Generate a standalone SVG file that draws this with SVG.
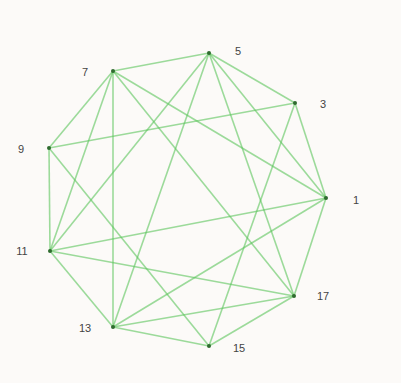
<svg xmlns="http://www.w3.org/2000/svg" width="401" height="383" viewBox="0 0 401 383">
<style>
.e{stroke:#5cc45c;stroke-width:1.6;stroke-opacity:0.6;fill:none}
.n{fill:#2f6b2f}
.t{font-family:"Liberation Sans",Arial,sans-serif;font-size:11px;fill:#444;text-anchor:middle;dominant-baseline:central}
</style>
<rect width="401" height="383" fill="#fcfaf8"/>
<g id="edges">
<line class="e" x1="326" y1="198" x2="209" y2="53"/>
<line class="e" x1="326" y1="198" x2="295" y2="103"/>
<line class="e" x1="326" y1="198" x2="113" y2="71"/>
<line class="e" x1="326" y1="198" x2="50" y2="251"/>
<line class="e" x1="326" y1="198" x2="113" y2="327"/>
<line class="e" x1="326" y1="198" x2="294" y2="296"/>
<line class="e" x1="295" y1="103" x2="209" y2="53"/>
<line class="e" x1="295" y1="103" x2="49" y2="148"/>
<line class="e" x1="295" y1="103" x2="209" y2="346"/>
<line class="e" x1="209" y1="53" x2="113" y2="71"/>
<line class="e" x1="209" y1="53" x2="294" y2="296"/>
<line class="e" x1="209" y1="53" x2="50" y2="251"/>
<line class="e" x1="209" y1="53" x2="113" y2="327"/>
<line class="e" x1="113" y1="71" x2="49" y2="148"/>
<line class="e" x1="113" y1="71" x2="50" y2="251"/>
<line class="e" x1="113" y1="71" x2="113" y2="327"/>
<line class="e" x1="113" y1="71" x2="294" y2="296"/>
<line class="e" x1="49" y1="148" x2="50" y2="251"/>
<line class="e" x1="49" y1="148" x2="209" y2="346"/>
<line class="e" x1="50" y1="251" x2="294" y2="296"/>
<line class="e" x1="50" y1="251" x2="113" y2="327"/>
<line class="e" x1="113" y1="327" x2="294" y2="296"/>
<line class="e" x1="113" y1="327" x2="209" y2="346"/>
<line class="e" x1="209" y1="346" x2="294" y2="296"/>
</g>
<g id="n1"><circle class="n" cx="326" cy="198" r="2"/><text class="t" x="356" y="200">1</text></g>
<g id="n3"><circle class="n" cx="295" cy="103" r="2"/><text class="t" x="323" y="104">3</text></g>
<g id="n5"><circle class="n" cx="209" cy="53" r="2"/><text class="t" x="238" y="51">5</text></g>
<g id="n7"><circle class="n" cx="113" cy="71" r="2"/><text class="t" x="85" y="72">7</text></g>
<g id="n9"><circle class="n" cx="49" cy="148" r="2"/><text class="t" x="21" y="149">9</text></g>
<g id="n11"><circle class="n" cx="50" cy="251" r="2"/><text class="t" x="22" y="251">11</text></g>
<g id="n13"><circle class="n" cx="113" cy="327" r="2"/><text class="t" x="85" y="328">13</text></g>
<g id="n15"><circle class="n" cx="209" cy="346" r="2"/><text class="t" x="239" y="348">15</text></g>
<g id="n17"><circle class="n" cx="294" cy="296" r="2"/><text class="t" x="323" y="296">17</text></g>
</svg>
